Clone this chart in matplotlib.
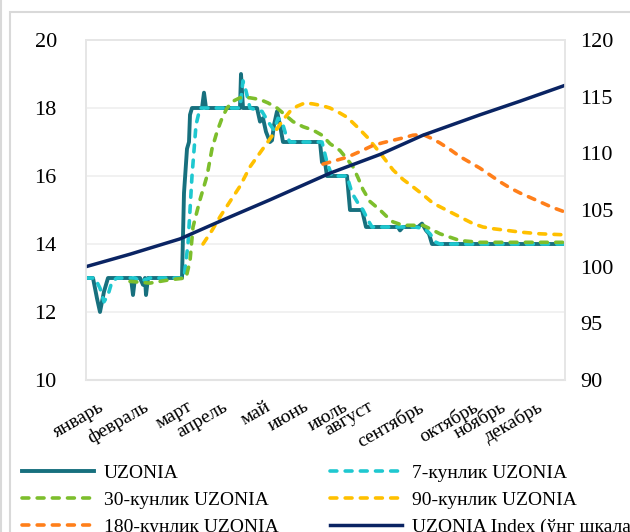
import matplotlib
matplotlib.use("Agg")
import matplotlib.pyplot as plt
from matplotlib.patches import Rectangle
from matplotlib.lines import Line2D

plt.rcParams["font.family"] = ["Liberation Serif", "DejaVu Serif"]

# x axis: trading-day index (0 .. 239.5)
months = ["январь", "февраль", "март", "апрель", "май", "июнь", "июль",
          "август", "сентябрь", "октябрь", "ноябрь", "декабрь"]
month_pos = [6, 28.5, 50.5, 68, 89.5, 108.5, 128, 141, 166, 193, 207, 225.5]

uzonia_x = [0, 3.5, 5.5, 7, 9, 11, 22.5, 23.5, 24.5, 27, 28.5, 29.5, 30, 31,
            48, 49, 50.5, 51.5, 52, 53, 58, 59, 60, 77, 77.5, 78.5, 85.5, 87,
            88.5, 90, 92, 93, 94, 95.5, 97, 98.5, 117, 118, 119, 120.5, 130.5,
            132, 138, 140, 156, 157, 158.5, 166, 168, 170, 171.5, 173, 239.5]
uzonia_y = [13.0, 13.0, 12.4, 12.0, 12.6, 13.0, 13.0, 12.5, 13.0, 13.0, 12.8,
            13.0, 12.5, 13.0, 13.0, 15.5, 16.8, 17.0, 17.8, 18.0, 18.0, 18.45,
            18.0, 18.0, 19.0, 18.0, 18.0, 17.6, 17.7, 17.3, 17.0, 17.05, 17.5,
            17.9, 17.5, 17.0, 17.0, 16.4, 16.6, 16.0, 16.0, 15.0, 15.0, 14.5,
            14.5, 14.4, 14.5, 14.5, 14.6, 14.4, 14.3, 14.0, 14.0]

d7_x = [0, 4.5, 7, 9, 11, 13, 15.5, 24.5, 27, 32, 49, 51, 53, 55, 57, 77, 78.5,
        80, 82, 88, 91, 94, 96, 98, 100, 102, 118, 120.5, 123, 130.5, 133, 136,
        138.5, 141, 143, 164.5, 169.5, 172, 175, 177, 239.5]
d7_y = [13.0, 13.0, 12.7, 12.3, 12.5, 12.9, 13.0, 13.0, 12.9, 13.0, 13.0, 14.0,
        16.0, 17.5, 18.0, 18.0, 18.8, 18.5, 18.0, 17.9, 17.6, 17.35, 17.7,
        17.6, 17.2, 17.0, 17.0, 16.4, 16.0, 16.0, 15.5, 15.2, 15.0, 14.7, 14.5,
        14.5, 14.45, 14.3, 14.05, 14.0, 14.0]

d30_x = [22, 32, 42, 50, 52, 53.5, 57, 60.5, 63, 65.5, 68, 70.5, 73.5, 77, 82,
         87, 91, 95.5, 99.5, 103.5, 108.5, 113.5, 118, 122, 127, 130.5, 133.5,
         136, 138.5, 142, 147, 150.5, 153.5, 158.5, 163.5, 168.5, 172, 177, 182,
         187, 197, 239.5]
d30_y = [12.9, 12.85, 12.95, 13.0, 13.5, 14.5, 15.3, 16.0, 16.8, 17.3, 17.7,
         18.0, 18.2, 18.3, 18.3, 18.25, 18.15, 18.0, 17.8, 17.6, 17.45, 17.35,
         17.2, 16.95, 16.75, 16.5, 16.27, 15.95, 15.6, 15.25, 15.0, 14.8, 14.65,
         14.55, 14.55, 14.55, 14.45, 14.3, 14.2, 14.1, 14.05, 14.05]

d90_x = [58.5, 63, 67, 72, 77, 82, 86, 90.5, 94.5, 98.5, 102, 105.5, 109.5,
         113.5, 118, 122, 127, 130.5, 135.5, 140.5, 147, 153.5, 158.5, 163.5,
         168.5, 173.5, 178.5, 183.5, 188.5, 193.5, 198.5, 203.5, 210.5, 217,
         227, 239.5]
d90_y = [14.0, 14.4, 14.8, 15.25, 15.7, 16.27, 16.6, 16.97, 17.3, 17.65, 17.9,
         18.05, 18.15, 18.12, 18.07, 18.0, 17.85, 17.73, 17.45, 17.15, 16.68,
         16.18, 15.9, 15.68, 15.45, 15.2, 15.05, 14.9, 14.75, 14.6, 14.5,
         14.45, 14.4, 14.35, 14.3, 14.27]

d180_x = [118.5, 124.5, 130.5, 137, 143.5, 148.5, 153.5, 158.5, 163.5, 168.5,
          173, 177, 182, 187, 192, 197, 202, 207, 212, 217, 222, 227, 233,
          239.5]
d180_y = [16.35, 16.45, 16.55, 16.72, 16.9, 16.98, 17.05, 17.12, 17.2, 17.22,
          17.1, 16.97, 16.78, 16.57, 16.4, 16.23, 16.03, 15.83, 15.65, 15.5,
          15.37, 15.24, 15.08, 14.94]

index_x = [0, 22, 47, 69.5, 92, 122, 147, 168.5, 197, 217, 239.5]
index_y = [100.0, 101.1, 102.45, 104.2, 105.9, 108.25, 109.9, 111.6, 113.4,
           114.6, 116.0]

c_uz = "#17707E"
c_7 = "#1FC8D0"
c_30 = "#7DBE2C"
c_90 = "#FFC000"
c_180 = "#FF7F1A"
c_idx = "#0A2463"

fig = plt.figure(figsize=(6.3, 5.32), dpi=100)

# outer chart frame
fig.patches.append(Rectangle((10 / 630, -0.1), 1.2, 1.1 - 12 / 532,
                             transform=fig.transFigure, fill=False,
                             edgecolor="#D9D9D9", linewidth=1.5))
fig.lines.append(Line2D([1 / 630, 1 / 630], [0, 1], transform=fig.transFigure,
                        color="#D9D9D9", linewidth=1.5))

ax = fig.add_axes([86 / 630, 1 - 380 / 532, 479 / 630, 340 / 532])
ax2 = ax.twinx()

dash = dict(linewidth=2.6, dashes=(1.9, 2.3), dash_capstyle="round")
l_uz, = ax.plot(uzonia_x, uzonia_y, color=c_uz, linewidth=2.8)
l7, = ax.plot(d7_x, d7_y, color=c_7, **dash)
l30, = ax.plot(d30_x, d30_y, color=c_30, **dash)
l90, = ax.plot(d90_x, d90_y, color=c_90, **dash)
l180, = ax.plot(d180_x, d180_y, color=c_180, **dash)
l_idx, = ax2.plot(index_x, index_y, color=c_idx, linewidth=2.5)

ax.set_xlim(0, 239.5)
ax.set_ylim(10, 20)
ax.set_yticks([10, 12, 14, 16, 18, 20])
ax2.set_ylim(90, 120)
ax2.set_yticks([90, 95, 100, 105, 110, 115, 120])

ax.grid(axis="y", color="#EFEFEF", linewidth=1.2)
ax.set_axisbelow(True)

for a in (ax, ax2):
    for side in ("left", "right", "top", "bottom"):
        a.spines[side].set_color("#E6E6E6")
        a.spines[side].set_linewidth(1.2)
    a.tick_params(length=0, labelsize=16)
ax.spines["bottom"].set_color("#D9D9D9")
ax.spines["bottom"].set_linewidth(1.5)
ax.tick_params(axis="y", pad=21)
ax2.tick_params(axis="y", pad=11)

ax.set_xticks(month_pos)
ax.set_xticklabels(months, rotation=30, ha="right", rotation_mode="anchor",
                   fontsize=14)
ax.tick_params(axis="x", pad=13)

handles = [l_uz, l30, l180, l7, l90, l_idx]
labels = ["UZONIA", "30-кунлик UZONIA", "180-кунлик UZONIA",
          "7-кунлик UZONIA", "90-кунлик UZONIA", "UZONIA Index (ўнг шкала)"]
fig.legend(handles, labels, ncol=2, loc="upper left",
           bbox_to_anchor=(22 / 630, 1 - 464 / 532), frameon=False,
           fontsize=14, handlelength=3.7, handletextpad=0.5,
           columnspacing=2.65, labelspacing=0.5, borderaxespad=0,
           borderpad=0)

plt.savefig("out.png", dpi=100)
